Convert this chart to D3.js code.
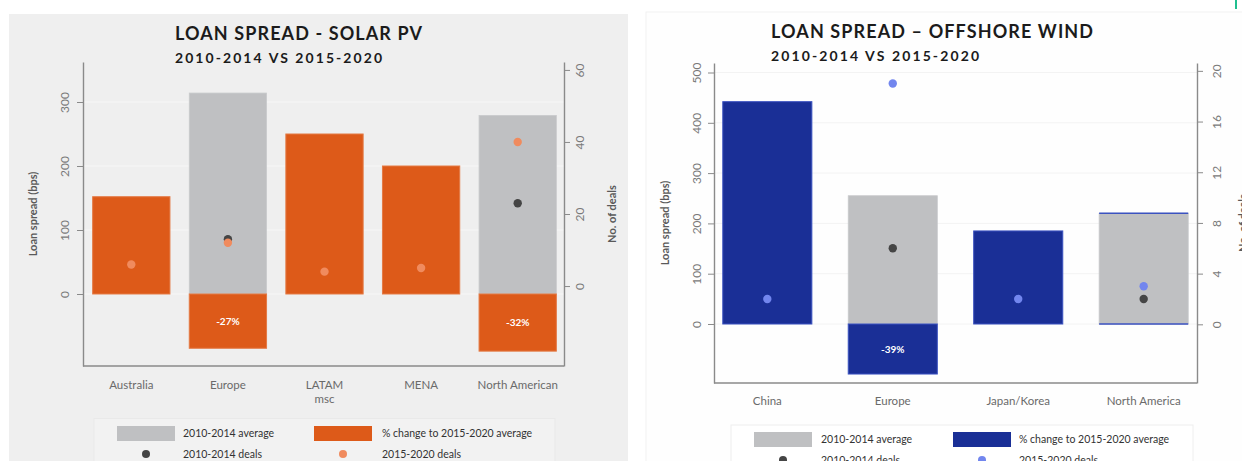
<!DOCTYPE html>
<html>
<head>
<meta charset="utf-8">
<script src="https://cdn.jsdelivr.net/npm/d3@7"></script>
<style>
  html, body { margin: 0; padding: 0; background: #fff; }
  svg { display: block; font-family: Lato, "Open Sans", sans-serif; }
</style>
</head>
<body>
<svg id="chart" width="1242" height="461"></svg>
<script>
// ---- Solar PV data ----
const solarCategories = ["Australia", "Europe", "LATAM\nmsc", "MENA", "North American"];
const solarAvg2010 = [null, 314, null, null, 279];      // bps, 2010-2014 average
const solarPctChange = [null, -27, null, null, -32];    // % change to 2015-2020 average
const solarAvg2015 = [152, null, 250, 200, null];       // bps, where only 2015-2020 exists
const solarDeals2010 = [null, 13, null, null, 23];
const solarDeals2015 = [6, 12, 4, 5, 40];
const solarSpreadTicks = [0, 100, 200, 300];
const solarDealTicks = [0, 20, 40, 60];

// ---- Offshore wind data ----
const windCategories = ["China", "Europe", "Japan/Korea", "North America"];
const windAvg2010 = [null, 255, null, 220];
const windPctChange = [null, -39, null, 0];
const windAvg2015 = [442, null, 185, null];
const windDeals2010 = [null, 6, null, 2];
const windDeals2015 = [2, 19, 2, 3];
const windSpreadTicks = [0, 100, 200, 300, 400, 500];
const windDealTicks = [0, 4, 8, 12, 16, 20];

const svg = d3.select("#chart");

// panel backgrounds
svg.append("rect").attr("x", 9).attr("y", 14).attr("width", 619).attr("height", 460).attr("fill", "#efefef");
svg.append("rect").attr("x", 646).attr("y", 12).attr("width", 610).attr("height", 460)
  .attr("fill", "#fefefe").attr("stroke", "#f1f1f1");
svg.append("rect").attr("x", 1235).attr("y", 0).attr("width", 2).attr("height", 9).attr("fill", "#1fbf8f");

function drawPanel(cfg) {
  const g = svg.append("g");
  const n = cfg.categories.length;
  const x = d3.scaleBand().domain(d3.range(n)).range(cfg.xRange)
    .paddingInner(cfg.paddingInner).paddingOuter(cfg.paddingOuter);
  const y = d3.scaleLinear().domain(cfg.yDomain).range([cfg.bottom, cfg.top]);
  const y2 = d3.scaleLinear().domain(cfg.y2Domain).range([cfg.bottom, cfg.top]);
  const [x0, x1] = cfg.axisX;

  // title
  g.append("text").attr("x", cfg.titleX).attr("y", cfg.titleY)
    .attr("font-size", 18).attr("font-weight", 700).attr("fill", "#1b1b1b")
    .attr("textLength", cfg.titleW).attr("lengthAdjust", "spacing").text(cfg.title);
  g.append("text").attr("x", cfg.titleX).attr("y", cfg.titleY + 23)
    .attr("font-size", 14).attr("font-weight", 700).attr("fill", "#1b1b1b")
    .attr("textLength", cfg.subW).attr("lengthAdjust", "spacing").text("2010-2014 VS 2015-2020");

  // gridlines
  g.append("g").selectAll("line").data(cfg.spreadTicks).join("line")
    .attr("x1", x0).attr("x2", x1).attr("y1", d => y(d)).attr("y2", d => y(d))
    .attr("stroke", cfg.gridColor).attr("stroke-width", 1);

  // grey 2010-2014 average bars
  const idx = d3.range(n);
  g.append("g").selectAll("rect").data(idx.filter(i => cfg.avg2010[i] != null)).join("rect")
    .attr("x", i => x(i)).attr("width", x.bandwidth())
    .attr("y", i => y(cfg.avg2010[i])).attr("height", i => y(0) - y(cfg.avg2010[i]))
    .attr("fill", "#bfc0c2").attr("stroke", "#c9cacc").attr("stroke-width", 0.8);

  // coloured bars: change from 2010-2014 level, or 2015-2020 level when no earlier data
  const barVal = i => cfg.avg2010[i] != null ? cfg.avg2010[i] * cfg.pct[i] / 100 : cfg.avg2015[i];
  const hasBar = i => barVal(i) != null;
  g.append("g").selectAll("rect").data(idx.filter(i => hasBar(i) && barVal(i) !== 0)).join("rect")
    .attr("x", i => x(i)).attr("width", x.bandwidth())
    .attr("y", i => y(Math.max(0, barVal(i))))
    .attr("height", i => Math.abs(y(barVal(i)) - y(0)))
    .attr("fill", cfg.color).attr("stroke", cfg.edge).attr("stroke-width", 1);

  // unchanged averages: a zero-height change bar at the baseline and the
  // 2015-2020 level marked on top of the grey bar
  const flat = idx.filter(i => cfg.pct[i] === 0);
  g.append("g").selectAll("line").data(flat).join("line")
    .attr("x1", i => x(i)).attr("x2", i => x(i) + x.bandwidth())
    .attr("y1", y(0)).attr("y2", y(0))
    .attr("stroke", cfg.edge).attr("stroke-width", 1.5);
  g.append("g").selectAll("line").data(flat).join("line")
    .attr("x1", i => x(i)).attr("x2", i => x(i) + x.bandwidth())
    .attr("y1", i => y(cfg.avg2010[i])).attr("y2", i => y(cfg.avg2010[i]))
    .attr("stroke", cfg.edge).attr("stroke-width", 1.5);

  // percent labels
  g.append("g").selectAll("text").data(idx.filter(i => cfg.pct[i] != null && cfg.pct[i] !== 0)).join("text")
    .attr("x", i => x(i) + x.bandwidth() / 2)
    .attr("y", i => (y(0) + y(barVal(i))) / 2)
    .attr("dy", "0.35em").attr("text-anchor", "middle")
    .attr("font-size", 10).attr("font-weight", 700).attr("fill", "#fff")
    .text(i => cfg.pct[i] + "%");

  // deal dots
  const cx = i => x(i) + x.bandwidth() / 2;
  g.append("g").selectAll("circle").data(idx.filter(i => cfg.deals2010[i] != null)).join("circle")
    .attr("cx", cx).attr("cy", i => y2(cfg.deals2010[i])).attr("r", 4.2).attr("fill", "#454545");
  g.append("g").selectAll("circle").data(idx.filter(i => cfg.deals2015[i] != null)).join("circle")
    .attr("cx", cx).attr("cy", i => y2(cfg.deals2015[i])).attr("r", 4.2).attr("fill", cfg.dotColor);

  // axes
  const axisColor = "#8a8a8a";
  const left = g.append("g").attr("transform", `translate(${x0},0)`)
    .call(d3.axisLeft(y).tickValues(cfg.spreadTicks).tickSize(6).tickSizeOuter(0));
  const right = g.append("g").attr("transform", `translate(${x1},0)`)
    .call(d3.axisRight(y2).tickValues(cfg.dealTicks).tickSize(6).tickSizeOuter(0));
  [left, right].forEach(ax => {
    ax.select(".domain").attr("stroke", axisColor).attr("stroke-width", 1.4);
    ax.selectAll(".tick line").attr("stroke", axisColor);
  });
  left.selectAll(".tick text")
    .attr("x", null).attr("dy", null)
    .attr("transform", `translate(${cfg.leftLabelX - x0 + 4.3},0) rotate(-90)`)
    .attr("text-anchor", "middle").attr("font-size", 12).attr("fill", "#7a7a7a")
    .attr("font-family", "Lato, sans-serif");
  right.selectAll(".tick text")
    .attr("x", null).attr("dy", null)
    .attr("transform", `translate(${cfg.rightLabelX - x1 + 4.3},0) rotate(-90)`)
    .attr("text-anchor", "middle").attr("font-size", 12).attr("fill", "#7a7a7a")
    .attr("font-family", "Lato, sans-serif");
  g.append("line").attr("x1", x0).attr("x2", x1).attr("y1", cfg.bottom).attr("y2", cfg.bottom)
    .attr("stroke", axisColor).attr("stroke-width", 1.4);

  // axis titles
  g.append("text").attr("transform", `translate(${cfg.leftTitleX},${cfg.titleMidY}) rotate(-90)`)
    .attr("text-anchor", "middle").attr("font-size", 11).attr("font-weight", 700).attr("fill", "#5a5a5a")
    .text("Loan spread (bps)");
  g.append("text").attr("transform", `translate(${cfg.rightTitleX},${cfg.titleMidY}) rotate(-90)`)
    .attr("text-anchor", "middle").attr("font-size", 11).attr("font-weight", 700).attr("fill", "#5a5a5a")
    .text("No. of deals");

  // category labels
  const cat = g.append("g").selectAll("text").data(idx).join("text")
    .attr("x", cx).attr("y", cfg.catY).attr("text-anchor", "middle")
    .attr("font-size", 11.5).attr("fill", "#6a6a6a");
  cat.each(function (i) {
    const lines = cfg.categories[i].split("\n");
    d3.select(this).selectAll("tspan").data(lines).join("tspan")
      .attr("x", cx(i)).attr("dy", (d, k) => k === 0 ? 0 : 13.5).text(d => d);
  });

  // legend
  const L = cfg.legend;
  g.append("rect").attr("x", L.x).attr("y", L.y).attr("width", L.w).attr("height", 80)
    .attr("fill", L.fill).attr("stroke", L.stroke);
  const items = [
    { kind: "bar", color: "#bfc0c2", label: "2010-2014 average", col: 0, row: 0 },
    { kind: "bar", color: cfg.color, label: "% change to 2015-2020 average", col: 1, row: 0 },
    { kind: "dot", color: "#454545", label: "2010-2014 deals", col: 0, row: 1 },
    { kind: "dot", color: cfg.dotColor, label: "2015-2020 deals", col: 1, row: 1 }
  ];
  items.forEach(it => {
    const sx = L.swatchX[it.col];
    const ry = L.rowY[it.row];
    if (it.kind === "bar") {
      g.append("rect").attr("x", sx).attr("y", ry - 7.5).attr("width", 58).attr("height", 15).attr("fill", it.color);
    } else {
      g.append("circle").attr("cx", sx + 29).attr("cy", ry).attr("r", 4).attr("fill", it.color);
    }
    g.append("text").attr("x", L.textX[it.col]).attr("y", ry).attr("dy", "0.35em")
      .attr("font-size", 10.5).attr("fill", "#333").text(it.label);
  });
}

drawPanel({
  title: "LOAN SPREAD - SOLAR PV", titleX: 175, titleY: 40, titleW: 247, subW: 207,
  categories: solarCategories, avg2010: solarAvg2010, pct: solarPctChange, avg2015: solarAvg2015,
  deals2010: solarDeals2010, deals2015: solarDeals2015,
  spreadTicks: solarSpreadTicks, dealTicks: solarDealTicks,
  xRange: [83, 566], paddingInner: 0.2, paddingOuter: 0.1, axisX: [83, 564],
  top: 62, bottom: 366, yDomain: [-112.5, 362.5], y2Domain: [-22.2, 62.2],
  color: "#dd5a19", edge: "#e47a45", dotColor: "#f08b5e", gridColor: "#f7f7f7",
  leftLabelX: 65, rightLabelX: 580, leftTitleX: 37, rightTitleX: 616, titleMidY: 214,
  catY: 389,
  legend: { x: 94, y: 418.5, w: 461, fill: "#f2f2f2", stroke: "#e9e9e9",
            swatchX: [117, 314], textX: [183, 382], rowY: [433.5, 454] }
});

drawPanel({
  title: "LOAN SPREAD \u2013 OFFSHORE WIND", titleX: 771, titleY: 38, titleW: 322, subW: 208,
  categories: windCategories, avg2010: windAvg2010, pct: windPctChange, avg2015: windAvg2015,
  deals2010: windDeals2010, deals2015: windDeals2015,
  spreadTicks: windSpreadTicks, dealTicks: windDealTicks,
  xRange: [714, 1197], paddingInner: 0.29, paddingOuter: 0.07, axisX: [714, 1197],
  top: 63, bottom: 383, yDomain: [-117.3, 518.9], y2Domain: [-4.63, 20.62],
  color: "#1a2f96", edge: "#3b52c0", dotColor: "#7286ee", gridColor: "#f3f3f3",
  leftLabelX: 697, rightLabelX: 1217, leftTitleX: 669, rightTitleX: 1247, titleMidY: 223,
  catY: 405,
  legend: { x: 731, y: 425, w: 462, fill: "#ffffff", stroke: "#eeeeee",
            swatchX: [754, 953], textX: [821, 1019], rowY: [439.5, 460] }
});
</script>
</body>
</html>
